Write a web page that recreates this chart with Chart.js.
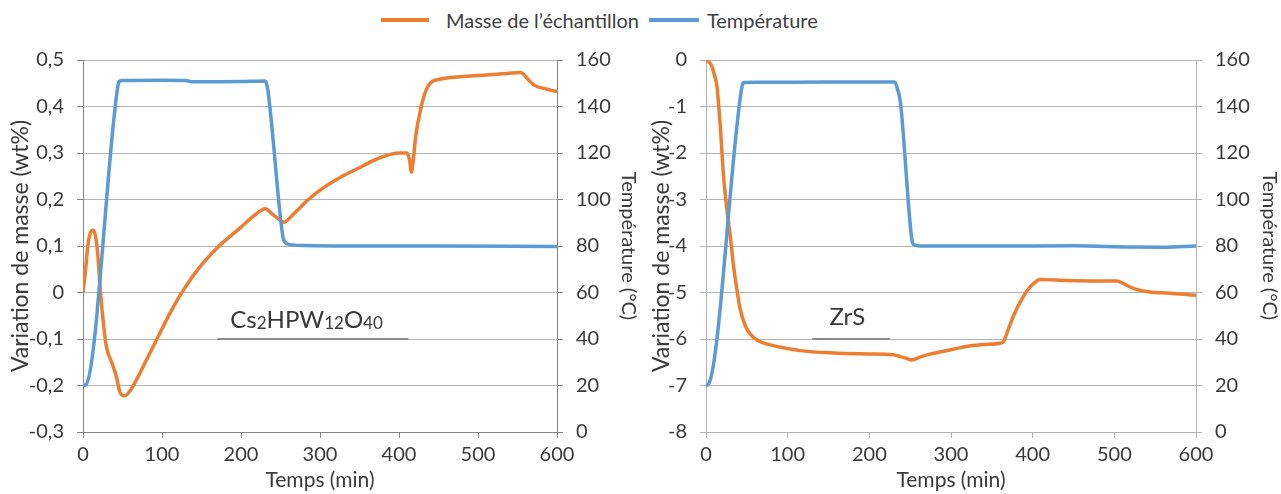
<!DOCTYPE html>
<html>
<head>
<meta charset="utf-8">
<script src="https://cdn.jsdelivr.net/npm/chart.js@4"></script>
<style>
  body { margin: 0; background: #fff; width: 1281px; height: 494px; overflow: hidden; position: relative; font-family: Lato, "Open Sans", sans-serif; }
  #legend { position: absolute; top: 8px; left: 381px; display: flex; align-items: center; font-size: 20px; color: #404040; }
  .item { display: flex; align-items: center; margin-right: 10px; }
  .swatch { width: 48px; height: 4px; margin-right: 17px; }
  .item + .item .swatch { width: 50px; margin-right: 8px; }
  #left { position: absolute; left: 0; top: 0; }
  #right { position: absolute; left: 640px; top: 0; }
</style>
</head>
<body>
<div id="legend">
  <div class="item"><span class="swatch" style="background:#ED7D31"></span><span>Masse de l’échantillon</span></div>
  <div class="item"><span class="swatch" style="background:#5B9BD5"></span><span>Température</span></div>
</div>
<canvas id="left" width="640" height="494"></canvas>
<canvas id="right" width="641" height="494"></canvas>
<script>
const ORANGE = '#ED7D31';
const BLUE = '#5B9BD5';
const FONT = 'Lato, "Open Sans", sans-serif';
const TEXT = '#3a3a3a';

// Cs2HPW12O40 : masse (wt%) en fonction du temps (min)
const cshTime = [0, 2, 4, 6, 8.5, 11, 13, 16, 19, 22, 25.4, 29.6, 36, 42.3, 46.5, 52.8, 59, 69.8, 80.3, 93, 110, 127, 148, 173, 199, 215, 231,
  240, 250, 254, 265, 275, 284, 305, 326, 347, 368, 389, 402, 410, 413.5, 415.6, 418, 421, 427, 434, 440, 453, 495, 537, 554, 563, 571, 588, 600];
const cshMass = [0, 0.03, 0.062, 0.1, 0.123, 0.133, 0.134, 0.119, 0.076, 0.005, -0.059, -0.116, -0.149, -0.181, -0.213, -0.222, -0.213, -0.181, -0.145, -0.102, -0.045, 0.005, 0.055, 0.101, 0.139, 0.163, 0.18,
  0.168, 0.155, 0.151, 0.166, 0.183, 0.198, 0.226, 0.248, 0.266, 0.284, 0.297, 0.3, 0.3, 0.284, 0.259, 0.284, 0.334, 0.391, 0.434, 0.451, 0.459, 0.466, 0.471, 0.473, 0.459, 0.446, 0.437, 0.432];
// Cs2HPW12O40 : température (°C)
const cshTempTime = [0, 4, 44, 46, 50, 100, 130, 138, 200, 231, 234, 253, 256, 262, 280, 350, 450, 550, 600];
const cshTemp = [20, 20.5, 148.5, 150.8, 151.2, 151.3, 151.2, 150.6, 150.8, 151, 147, 84, 81.5, 80.6, 80.2, 80, 80, 79.9, 79.8];

// ZrS : masse (wt%)
const zrsTime = [0, 3, 7.3, 10, 13.4, 17.5, 21.5, 25.6, 29.7, 33.7, 37.8, 41.9, 48, 54, 64, 75, 95, 115, 156, 197, 229, 238, 246, 252, 262,
  278, 300, 319, 340, 360, 364, 370, 376, 388.5, 395, 401, 409, 442, 482, 503, 511, 523, 543, 564, 584, 600];
const zrsMass = [0, -0.03, -0.14, -0.3, -0.57, -1.43, -2.5, -3.21, -3.79, -4.43, -4.93, -5.36, -5.71, -5.89, -6.04, -6.11, -6.19, -6.25, -6.3, -6.32, -6.34, -6.38, -6.42, -6.45, -6.39,
  -6.31, -6.23, -6.16, -6.12, -6.09, -6.06, -5.8, -5.52, -5.09, -4.92, -4.81, -4.72, -4.74, -4.75, -4.75, -4.81, -4.91, -4.99, -5.01, -5.04, -5.06];
// ZrS : température (°C)
const zrsTempTime = [0, 3, 44, 46, 60, 150, 231, 234, 238, 252, 255, 262, 350, 450, 520, 560, 600];
const zrsTemp = [20, 20.5, 148.5, 150.3, 150.4, 150.5, 150.5, 148, 142, 83, 80.5, 80, 80, 80.1, 79.6, 79.5, 80];

// repères textuels (temps de début, temps de fin, niveau) et étiquette
const cshNote = { line: [170, 412, -0.1], at: [283, -0.076], parts: [['Cs', 0], ['2', 1], ['HPW', 0], ['12', 1], ['O', 0], ['40', 1]] };
const zrsNote = { line: [130, 225, -6], at: [173, -5.7], parts: [['ZrS', 0]] };

const pts = (xs, ys) => xs.map((x, i) => ({ x: x, y: ys[i] }));

const notePlugin = {
  id: 'note',
  beforeDatasetsDraw(chart, args, o) {
    const { ctx, scales } = chart;
    const x = scales.x, y = scales.y;
    ctx.save();
    ctx.strokeStyle = '#8c8c8c';
    ctx.lineWidth = 2;
    ctx.beginPath();
    ctx.moveTo(x.getPixelForValue(o.line[0]), y.getPixelForValue(o.line[2]));
    ctx.lineTo(x.getPixelForValue(o.line[1]), y.getPixelForValue(o.line[2]));
    ctx.stroke();
    ctx.fillStyle = TEXT;
    ctx.textBaseline = 'alphabetic';
    const big = '24px ' + FONT, small = '17px ' + FONT;
    let total = 0;
    o.parts.forEach(p => { ctx.font = p[1] ? small : big; total += ctx.measureText(p[0]).width; });
    let cx = x.getPixelForValue(o.at[0]) - total / 2;
    const by = y.getPixelForValue(o.at[1]);
    o.parts.forEach(p => {
      ctx.font = p[1] ? small : big;
      ctx.fillText(p[0], cx, by + (p[1] ? 1 : 0));
      cx += ctx.measureText(p[0]).width;
    });
    ctx.restore();
  }
};

function build(id, mass, temp, yMin, yMax, yStep, fmt, note, dims) {
  const border = dims.border;
  const tickFont = { family: FONT, size: 20 };
  return new Chart(document.getElementById(id), {
    type: 'line',
    data: {
      datasets: [
        { label: 'Masse de l’échantillon', data: mass, yAxisID: 'y', borderColor: ORANGE, borderWidth: 3.5, pointRadius: 0, cubicInterpolationMode: 'monotone', order: 1 },
        { label: 'Température', data: temp, yAxisID: 'y1', borderColor: BLUE, borderWidth: 3.5, pointRadius: 0, cubicInterpolationMode: 'monotone', order: 0 }
      ]
    },
    options: {
      responsive: false,
      animation: false,
      layout: { padding: { top: 60, left: 0, right: 0, bottom: 0 } },
      plugins: { legend: { display: false }, tooltip: { enabled: false }, note: note },
      scales: {
        x: {
          type: 'linear', min: 0, max: 600,
          ticks: { stepSize: 100, color: TEXT, font: tickFont, padding: 5, maxRotation: 0 },
          grid: { drawOnChartArea: false, tickColor: border, tickLength: 6 },
          border: { color: border },
          title: { display: true, text: 'Temps (min)', color: TEXT, font: { family: FONT, size: 21 }, padding: { top: 0, bottom: 1 } },
          afterFit: s => { s.height = 62; }
        },
        y: {
          position: 'left', min: yMin, max: yMax,
          ticks: { stepSize: yStep, color: TEXT, font: tickFont, padding: 13, callback: fmt },
          grid: { color: '#b5b5b5', tickColor: border, tickLength: 6 },
          border: { color: border },
          title: { display: true, text: 'Variation de masse (wt%)', color: TEXT, font: { family: FONT, size: 23 }, padding: { top: dims.leftTitle, bottom: 0 } },
          afterFit: s => { s.width = dims.left; }
        },
        y1: {
          position: 'right', min: 0, max: 160,
          ticks: { stepSize: 20, color: TEXT, font: tickFont, padding: 13 },
          grid: { drawOnChartArea: false, tickColor: border, tickLength: 6 },
          border: { color: border },
          title: { display: true, text: 'Température (°C)', color: TEXT, font: { family: FONT, size: 20 }, padding: { top: dims.rightTitle, bottom: 0 } },
          afterFit: s => { s.width = dims.right; }
        }
      }
    },
    plugins: [notePlugin]
  });
}

const comma = v => Math.abs(v) < 1e-9 ? '0' : v.toFixed(1).replace('.', ',');
const whole = v => Math.abs(v) < 1e-9 ? '0' : String(Math.round(v));

build('left', pts(cshTime, cshMass), pts(cshTempTime, cshTemp), -0.3, 0.5, 0.1, comma, cshNote,
  { left: 83, right: 83, leftTitle: 7, rightTitle: 0, border: '#858585' });
build('right', pts(zrsTime, zrsMass), pts(zrsTempTime, zrsTemp), -8, 0, 1, whole, zrsNote,
  { left: 66, right: 85, leftTitle: 8, rightTitle: 0, border: '#b3b3b3' });
</script>
</body>
</html>
